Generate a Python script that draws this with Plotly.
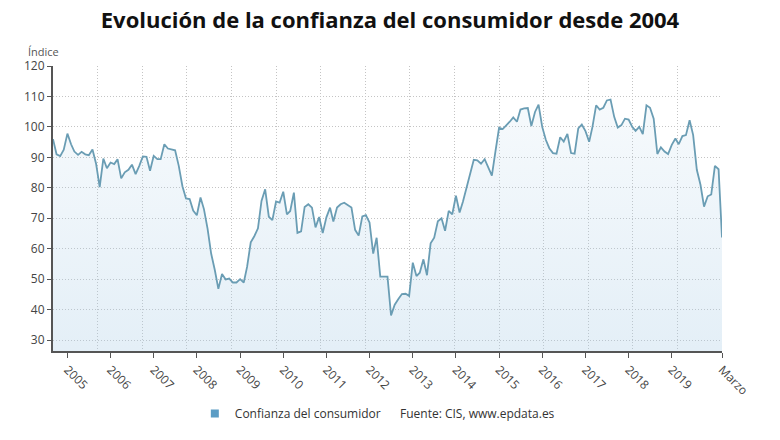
import plotly.graph_objects as go
import pandas as pd

# Monthly consumer confidence index (CIS), Sep 2004 - Mar 2020
v2004 = [96.0, 91.0, 90.4, 92.5]
v2005 = [97.8, 94.3, 91.9, 90.8, 91.8, 91.0, 90.7, 92.6, 87.8, 80.2, 89.6, 86.4]
v2006 = [88.3, 87.8, 89.4, 83.1, 85.1, 85.9, 87.6, 84.5, 87.2, 90.3, 90.2, 85.6]
v2007 = [90.5, 89.4, 89.4, 94.3, 92.9, 92.6, 92.3, 87.2, 80.5, 76.5, 76.3, 72.5]
v2008 = [71.0, 76.8, 73.0, 66.5, 58.4, 53.0, 46.8, 51.7, 49.9, 50.2, 48.9, 48.9]
v2009 = [50.0, 48.9, 54.0, 62.1, 64.1, 66.7, 75.7, 79.5, 70.5, 69.4, 75.5, 75.1]
v2010 = [78.7, 71.3, 72.4, 78.4, 65.2, 65.7, 73.7, 74.6, 73.5, 67.0, 70.4, 65.1]
v2011 = [70.3, 73.5, 68.9, 73.5, 74.6, 75.1, 74.4, 73.5, 66.2, 64.3, 70.6, 71.0]
v2012 = [68.6, 58.4, 63.6, 50.8, 50.8, 50.8, 38.1, 41.6, 43.5, 45.1, 45.2, 44.5]
v2013 = [55.4, 51.0, 52.1, 56.5, 51.3, 61.8, 63.6, 69.0, 70.0, 65.9, 72.4, 71.3]
v2014 = [77.4, 71.9, 75.4, 80.0, 85.0, 89.2, 89.0, 87.9, 89.4, 86.5, 84.0, 91.9]
v2015 = [99.7, 99.3, 100.3, 101.7, 103.1, 101.7, 105.7, 106.1, 106.2, 100.3, 104.9, 107.3]
v2016 = [100.0, 95.7, 93.0, 91.4, 91.2, 96.6, 95.2, 97.7, 91.4, 91.2, 99.5, 100.8]
v2017 = [98.6, 95.1, 100.0, 107.1, 105.7, 106.3, 108.7, 109.0, 103.3, 99.8, 100.6, 102.7]
v2018 = [102.4, 100.0, 98.7, 100.0, 97.6, 107.1, 106.3, 102.7, 91.1, 93.3, 91.9, 91.1]
v2019 = [94.1, 96.2, 94.3, 97.0, 97.3, 102.2, 97.3, 85.9, 81.0, 73.8, 77.2, 77.8]
v2020 = [87.2, 86.1, 63.7]

values = (v2004 + v2005 + v2006 + v2007 + v2008 + v2009 + v2010 + v2011 + v2012
          + v2013 + v2014 + v2015 + v2016 + v2017 + v2018 + v2019 + v2020)
dates = pd.date_range("2004-09-01", periods=len(values), freq="MS")

tick_dates = [f"{y}-01-01" for y in range(2005, 2020)] + ["2020-03-01"]
tick_text = [str(y) for y in range(2005, 2020)] + ["Marzo"]
y_ticks = list(range(30, 121, 10))

series_name = "Confianza del consumidor"
title_text = "Evolución de la confianza del consumidor desde 2004"
source_text = "Fuente: CIS, www.epdata.es"

line_color = "#6a9db4"

fig = go.Figure()
fig.add_trace(go.Scatter(
    x=dates, y=values, mode="lines",
    line=dict(color=line_color, width=1.8),
    fill="tozeroy",
    fillgradient=dict(type="vertical", start=26.4, stop=110,
                      colorscale=[[0, "rgba(170,205,230,0.32)"],
                                  [1, "rgba(170,205,230,0.10)"]]),
    showlegend=False, hoverinfo="skip",
))
# legend entry
fig.add_trace(go.Scatter(
    x=[None], y=[None], mode="markers", name=series_name,
    marker=dict(symbol="square", size=8, color="#5b9cc4"),
))
# dummy trace for the grid overlay axis
fig.add_trace(go.Scatter(x=[None], y=[None], xaxis="x2", showlegend=False,
                         hoverinfo="skip"))

font_family = "Open Sans, Noto Sans, sans-serif"
grid_dash = "1px,2px"
grid_color = "#c4c4c4"

fig.update_layout(
    width=780, height=440,
    margin=dict(l=53, r=58, t=66, b=86),
    paper_bgcolor="white", plot_bgcolor="white",
    font=dict(family=font_family, color="#444", size=12),
    title=dict(text=f"<b>{title_text}</b>", x=0.5, xanchor="center",
               y=0.953, yanchor="middle",
               font=dict(size=22, color="#111", family=font_family)),
    xaxis=dict(type="date", range=["2004-09-01", "2020-03-01"],
               tickvals=tick_dates, ticktext=tick_text, tickangle=45,
               showgrid=False, showline=True, linecolor="#555", linewidth=2,
               ticks="outside", ticklen=5, tickcolor="#555",
               tickfont=dict(size=12, color="#444"), zeroline=False),
    xaxis2=dict(overlaying="x", range=[0, 15], tickvals=list(range(1, 16)),
                showticklabels=False, ticks="", showline=False,
                showgrid=True, gridcolor=grid_color, griddash=grid_dash,
                gridwidth=1, zeroline=False),
    yaxis=dict(range=[26.4, 120], tickvals=y_ticks, showgrid=True,
               gridcolor=grid_color, griddash=grid_dash, gridwidth=1,
               showline=True, linecolor="#555", linewidth=2,
               ticks="outside", ticklen=4, tickcolor="#555",
               tickfont=dict(size=12, color="#444"), zeroline=False),
    legend=dict(orientation="h", x=0.212, xanchor="left", y=-0.219,
                yanchor="middle", itemwidth=30,
                font=dict(size=12, color="#333")),
    annotations=[
        dict(text="Índice", xref="paper", yref="paper", x=-0.04, y=1.05,
             xanchor="left", yanchor="middle", showarrow=False,
             font=dict(size=11, color="#555")),
        dict(text=source_text, xref="paper", yref="paper", x=0.516, y=-0.219,
             xanchor="left", yanchor="middle", showarrow=False,
             font=dict(size=12, color="#333")),
    ],
)

fig.write_html("out.html")
